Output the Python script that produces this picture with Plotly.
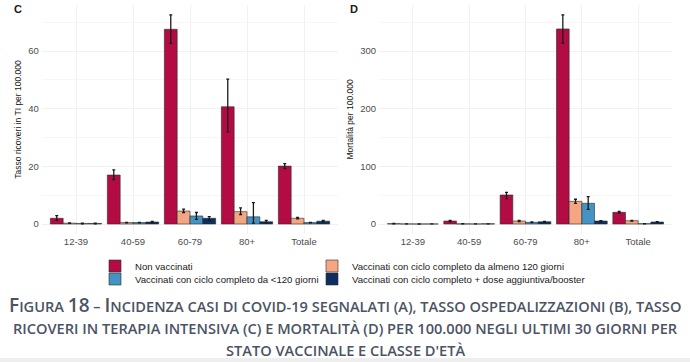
import plotly.graph_objects as go

categories = ["12-39", "40-59", "60-79", "80+", "Totale"]
series_names = [
    "Non vaccinati",
    "Vaccinati con ciclo completo da almeno 120 giorni",
    "Vaccinati con ciclo completo da <120 giorni",
    "Vaccinati con ciclo completo + dose aggiuntiva/booster",
]
colors = ["#b30c45", "#f4a582", "#4393c3", "#0b2f5e"]

# Panel C: Tasso ricoveri in TI per 100.000
nv_C = [2.0, 17.0, 67.6, 40.7, 20.1]
nv_C_hi = [2.9, 18.8, 72.6, 50.3, 21.0]
nv_C_lo = [1.3, 15.4, 62.7, 32.0, 19.2]
old_C = [0.3, 0.5, 4.5, 4.3, 2.0]
old_C_hi = [0.4, 0.6, 5.2, 5.6, 2.3]
old_C_lo = [0.2, 0.4, 4.0, 3.3, 1.8]
rec_C = [0.2, 0.5, 2.8, 2.5, 0.5]
rec_C_hi = [0.3, 0.6, 4.0, 7.4, 0.6]
rec_C_lo = [0.1, 0.4, 1.6, 0.3, 0.4]
bst_C = [0.2, 0.7, 2.0, 0.8, 1.0]
bst_C_hi = [0.3, 0.9, 2.6, 1.3, 1.3]
bst_C_lo = [0.1, 0.5, 1.3, 0.5, 0.8]

# Panel D: Mortalità per 100.000
nv_D = [0.6, 5.2, 50.4, 338.6, 20.3]
nv_D_hi = [1.0, 6.5, 55.0, 363.0, 22.0]
nv_D_lo = [0.3, 4.0, 44.0, 314.0, 19.0]
old_D = [0.2, 0.3, 5.2, 39.4, 5.8]
old_D_hi = [0.3, 0.5, 6.2, 43.0, 6.5]
old_D_lo = [0.1, 0.2, 4.3, 36.0, 5.2]
rec_D = [0.1, 0.2, 2.9, 36.0, 0.6]
rec_D_hi = [0.2, 0.3, 3.5, 47.5, 0.8]
rec_D_lo = [0.05, 0.1, 2.3, 25.5, 0.4]
bst_D = [0.2, 0.3, 4.0, 5.2, 3.5]
bst_D_hi = [0.3, 0.4, 4.7, 6.0, 4.0]
bst_D_lo = [0.1, 0.2, 3.3, 4.4, 3.0]

yticks_C = [0, 20, 40, 60]
yticks_D = [0, 100, 200, 300]

panel_C = [(nv_C, nv_C_hi, nv_C_lo), (old_C, old_C_hi, old_C_lo),
           (rec_C, rec_C_hi, rec_C_lo), (bst_C, bst_C_hi, bst_C_lo)]
panel_D = [(nv_D, nv_D_hi, nv_D_lo), (old_D, old_D_hi, old_D_lo),
           (rec_D, rec_D_hi, rec_D_lo), (bst_D, bst_D_hi, bst_D_lo)]

# legend: row1 col1, legend2: row1 col2, legend3: row2 col1, legend4: row2 col2
legend_ids = ["legend", "legend2", "legend3", "legend4"]

fig = go.Figure()
for panel, xa, ya, show in [(panel_C, "x", "y", True), (panel_D, "x2", "y2", False)]:
    for i, (vals, hi, lo) in enumerate(panel):
        fig.add_trace(go.Bar(
            x=categories, y=vals, name=series_names[i],
            marker=dict(color=colors[i], line=dict(color="#2b2b2b", width=0.6)),
            error_y=dict(type="data", symmetric=False,
                         array=[h - v for h, v in zip(hi, vals)],
                         arrayminus=[v - l for v, l in zip(vals, lo)],
                         color="#1a1a1a", thickness=1.3, width=1.5),
            xaxis=xa, yaxis=ya, offsetgroup=str(i),
            legendgroup=str(i), showlegend=show, legend=legend_ids[i],
        ))

W, H = 690, 362
ytop, ybot = 4.5, 234.4
ydom = [1 - ybot / H, 1 - ytop / H]

axis_font = dict(family="Liberation Sans, Arial, sans-serif", size=9.5, color="#4d4d4d")
title_font = dict(family="Liberation Sans, Arial, sans-serif", size=8.5, color="#1a1a1a")
grid = "#f1f1f1"

legend_common = dict(
    font=dict(family="Liberation Sans, Arial, sans-serif", size=9.6, color="#1a1a1a"),
    bgcolor="rgba(0,0,0,0)", borderwidth=0, xanchor="left", yanchor="middle",
    orientation="v", itemclick=False, itemdoubleclick=False,
)

BIG = 19

def small_caps(parts):
    out = []
    for big, txt in parts:
        if big:
            out.append("<span style='font-size:%dpx'>" % BIG + txt + "</span>")
        else:
            out.append(txt)
    return "".join(out)

cap1 = small_caps([(1, "F"), (0, "IGURA "), (1, "18"), (0, " – "), (1, "I"),
                   (0, "NCIDENZA CASI DI COVID-19 SEGNALATI (A), TASSO OSPEDALIZZAZIONI (B), TASSO")])
cap2 = "RICOVERI IN TERAPIA INTENSIVA (C) E MORTALITÀ (D) PER 100.000 NEGLI ULTIMI 30 GIORNI PER"
cap3 = "STATO VACCINALE E CLASSE D'ETÀ"

cap_font = dict(family="Open Sans, Lato, sans-serif", size=14.6, color="#4b5365", weight=600)

fig.update_layout(
    width=W, height=H, margin=dict(l=0, r=0, t=0, b=0),
    paper_bgcolor="white", plot_bgcolor="white",
    barmode="group", bargap=0.1, bargroupgap=0,
    xaxis=dict(domain=[41.8 / W, 338.2 / W], range=[-0.6, 4.6], type="category",
               tickfont=axis_font, showgrid=True, gridcolor=grid, zeroline=False,
               showline=False, ticks="", ticklen=0, anchor="y", ticklabelstandoff=0),
    yaxis=dict(domain=ydom, range=[-3.6, 76.2], tickvals=yticks_C, tickfont=axis_font,
               showgrid=True, gridcolor=grid, zeroline=False, showline=False, ticks="",
               minor=dict(showgrid=True, gridcolor="#f7f7f7", dtick=10),
               title=dict(text="Tasso ricoveri in TI per 100.000", font=title_font, standoff=5),
               anchor="x", ticklabelstandoff=2),
    xaxis2=dict(domain=[379 / W, 672 / W], range=[-0.6, 4.6], type="category",
                tickfont=axis_font, showgrid=True, gridcolor=grid, zeroline=False,
                showline=False, ticks="", ticklen=0, anchor="y2", ticklabelstandoff=0),
    yaxis2=dict(domain=ydom, range=[-18, 381], tickvals=yticks_D, tickfont=axis_font,
                showgrid=True, gridcolor=grid, zeroline=False, showline=False, ticks="",
                minor=dict(showgrid=True, gridcolor="#f7f7f7", dtick=50),
                title=dict(text="Mortalità per 100.000", font=title_font, standoff=5),
                anchor="x2", ticklabelstandoff=2),
    legend=dict(x=95 / W, y=1 - 266 / H, **legend_common),
    legend2=dict(x=312 / W, y=1 - 266 / H, **legend_common),
    legend3=dict(x=95 / W, y=1 - 279 / H, **legend_common),
    legend4=dict(x=312 / W, y=1 - 279 / H, **legend_common),
    showlegend=True,
    annotations=[
        dict(text="<b>C</b>", x=12 / W, y=1 - 9 / H, xref="paper", yref="paper",
             showarrow=False, xanchor="left", yanchor="middle",
             font=dict(family="Liberation Sans, Arial, sans-serif", size=11, color="#1a1a1a")),
        dict(text="<b>D</b>", x=348 / W, y=1 - 9 / H, xref="paper", yref="paper",
             showarrow=False, xanchor="left", yanchor="middle",
             font=dict(family="Liberation Sans, Arial, sans-serif", size=11, color="#1a1a1a")),
        dict(text=cap1, x=0.5, y=1 - 305 / H, xref="paper", yref="paper", showarrow=False,
             xanchor="center", yanchor="middle", font=cap_font),
        dict(text=cap2, x=0.5, y=1 - 328 / H, xref="paper", yref="paper", showarrow=False,
             xanchor="center", yanchor="middle", font=cap_font),
        dict(text=cap3, x=0.5, y=1 - 350 / H, xref="paper", yref="paper", showarrow=False,
             xanchor="center", yanchor="middle", font=cap_font),
    ],
    shapes=[dict(type="rect", xref="paper", yref="paper", x0=0, x1=1,
                 y0=0, y1=1 - 358 / H, fillcolor="#eeeeee", line=dict(width=0), layer="below")],
)

fig.write_html("out.html", config={"displayModeBar": False},
               post_script="document.body.style.margin='0';document.body.style.overflow='hidden';")
